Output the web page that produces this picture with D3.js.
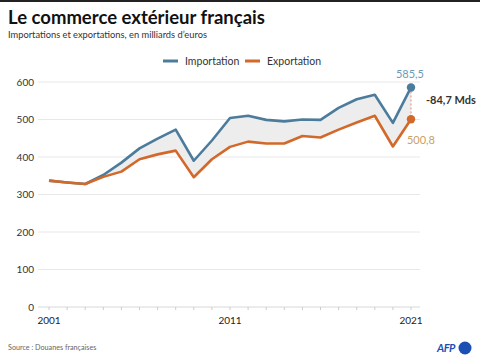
<!DOCTYPE html>
<html><head><meta charset="utf-8">
<script src="https://cdn.jsdelivr.net/npm/d3@7"></script>
<style>
html,body{margin:0;padding:0;background:#fff;}
svg{display:block;font-family:"Source Sans Pro",Lato,"Open Sans",sans-serif;}
</style></head>
<body>
<svg id="c" width="480" height="358"></svg>
<script>
const years = d3.range(2001, 2022);
const importValues = [337, 332, 328, 352, 385, 423, 449, 473, 390, 444, 504, 510, 499, 495, 500, 499, 531, 554, 566, 491, 585.5];
const exportValues = [337, 332, 328, 347, 361, 394, 407, 417, 346, 394, 427, 441, 436, 436, 456, 452, 473, 492, 510, 428, 500.8];
const yTicks = [0, 100, 200, 300, 400, 500, 600];
const xTickLabels = [2001, 2011, 2021];
const seriesNames = ["Importation", "Exportation"];
const colors = {imp: "#4c7c9c", exp: "#d2692a"};

const svg = d3.select("#c");
svg.append("rect").attr("x",0).attr("y",0).attr("width",480).attr("height",2).attr("fill","#222");

const x = d3.scaleLinear().domain([2001, 2021]).range([49, 411]);
const y = d3.scaleLinear().domain([0, 600]).range([307, 82]);

// title
svg.append("text").attr("x",8).attr("y",24).attr("font-size",18.5).attr("font-weight","bold").attr("fill","#111")
  .text("Le commerce extérieur français");
svg.append("text").attr("x",8).attr("y",38).attr("font-size",9.3).attr("fill","#333")
  .text("Importations et exportations, en milliards d’euros");

// grid
const g = svg.append("g");
g.selectAll("line.grid").data(yTicks).enter().append("line")
  .attr("x1",38).attr("x2",420).attr("y1",d=>y(d)).attr("y2",d=>y(d))
  .attr("stroke", d=> d===0 ? "#d8d8d8" : "#e8e8e8").attr("stroke-width",1);
g.selectAll("text.yl").data(yTicks).enter().append("text")
  .attr("x",34).attr("y",d=>y(d)+3.5).attr("text-anchor","end").attr("font-size",10).attr("fill","#333")
  .text(d=>d);

// x axis minor ticks
g.selectAll("line.xt").data(years).enter().append("line")
  .attr("x1",d=>x(d)).attr("x2",d=>x(d)).attr("y1",y(0)).attr("y2",y(0)+3)
  .attr("stroke","#ccc");
g.selectAll("text.xl").data(xTickLabels).enter().append("text")
  .attr("x",d=>x(d)).attr("y",324).attr("text-anchor","middle").attr("font-size",10).attr("fill","#222")
  .text(d=>d);

// area between
const data = years.map((yr,i)=>({yr, imp: importValues[i], exp: exportValues[i]}));
const area = d3.area().x(d=>x(d.yr)).y0(d=>y(d.exp)).y1(d=>y(d.imp));
svg.append("path").datum(data).attr("d",area).attr("fill","#ededed");

const lineImp = d3.line().x(d=>x(d.yr)).y(d=>y(d.imp));
const lineExp = d3.line().x(d=>x(d.yr)).y(d=>y(d.exp));
svg.append("path").datum(data).attr("d",lineImp).attr("fill","none").attr("stroke",colors.imp).attr("stroke-width",2.6).attr("stroke-linejoin","round");
svg.append("path").datum(data).attr("d",lineExp).attr("fill","none").attr("stroke",colors.exp).attr("stroke-width",2.6).attr("stroke-linejoin","round");

const last = data[data.length-1];
svg.append("line").attr("x1",x(last.yr)).attr("x2",x(last.yr)).attr("y1",y(last.imp)).attr("y2",y(last.exp))
  .attr("stroke","#e08a80").attr("stroke-width",1).attr("stroke-dasharray","2,2");
svg.append("circle").attr("cx",x(last.yr)).attr("cy",y(last.imp)).attr("r",4.2).attr("fill",colors.imp);
svg.append("circle").attr("cx",x(last.yr)).attr("cy",y(last.exp)).attr("r",4.2).attr("fill",colors.exp);

const fmt = v => String(v.toFixed(1)).replace(".", ",");
svg.append("text").attr("x",x(last.yr)-1).attr("y",y(last.imp)-9).attr("text-anchor","middle").attr("font-size",11).attr("fill","#6b9bbb")
  .text(fmt(last.imp));
svg.append("text").attr("x",x(last.yr)+10).attr("y",y(last.exp)+25).attr("text-anchor","middle").attr("font-size",11).attr("fill","#c9a064")
  .text(fmt(last.exp));
svg.append("text").attr("x",426).attr("y",104).attr("font-size",11).attr("font-weight","bold").attr("fill","#333")
  .text("-" + fmt(last.imp - last.exp) + " Mds");

// legend
const leg = svg.append("g");
const legItems = [{n: seriesNames[0], c: colors.imp, x: 163}, {n: seriesNames[1], c: colors.exp, x: 245}];
legItems.forEach(it=>{
  leg.append("line").attr("x1",it.x).attr("x2",it.x+15).attr("y1",61).attr("y2",61).attr("stroke",it.c).attr("stroke-width",3);
  leg.append("text").attr("x",it.x+22).attr("y",65).attr("font-size",10.5).attr("fill","#333").text(it.n);
});

// footer
svg.append("text").attr("x",8).attr("y",350).attr("font-size",7.2).attr("fill","#666").text("Source : Douanes françaises");
svg.append("text").attr("x",437).attr("y",352).attr("font-size",11).attr("font-weight","bold").attr("font-style","italic").attr("fill","#1b4fb3").attr("letter-spacing",-0.5).text("AFP");
svg.append("circle").attr("cx",465).attr("cy",348).attr("r",6.5).attr("fill","#1b4fb3");
</script>
</body></html>
